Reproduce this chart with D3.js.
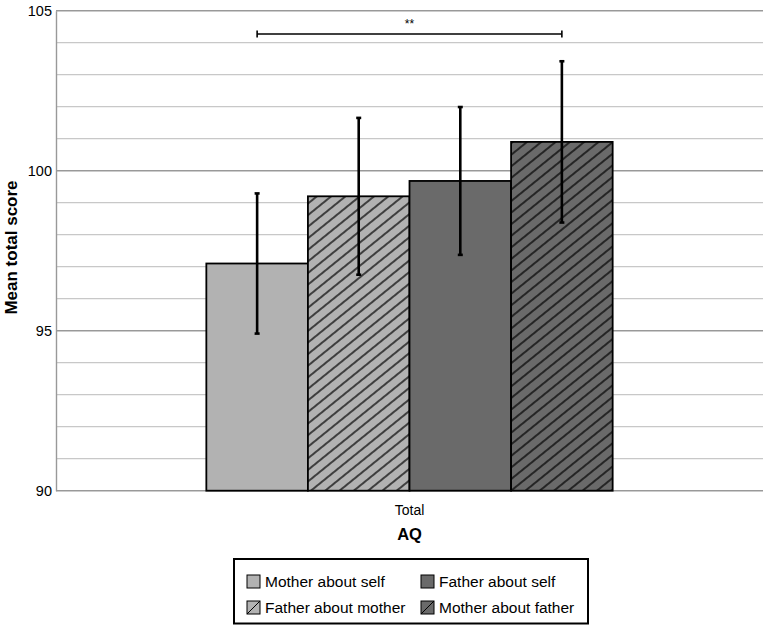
<!DOCTYPE html>
<html>
<head>
<meta charset="utf-8">
<script src="https://cdn.jsdelivr.net/npm/d3@7"></script>
<style>
  body { margin: 0; background: #fff; }
  text { font-family: "Liberation Sans", Arial, sans-serif; }
</style>
</head>
<body>
<div id="chart"></div>
<script>
// data
const groups = ['Mother about self', 'Father about mother', 'Father about self', 'Mother about father'];
const means = [97.1, 99.2, 99.68, 100.9];
const errs = [2.19, 2.45, 2.31, 2.52];
const fills = ['#b2b2b2', '#b2b2b2', '#6a6a6a', '#6a6a6a'];
const hatched = [false, true, false, true];
const yTicks = [90, 95, 100, 105];
const category = 'Total';
const sigPair = [0, 3];
const sigLabel = '**';

const width = 767, height = 625;
const margin = { left: 56, right: 4, top: 10.7, bottom: 134.3 };

const svg = d3.select('#chart').append('svg')
  .attr('width', width)
  .attr('height', height);

const defs = svg.append('defs');
['light', 'dark'].forEach((k, i) => {
  const p = defs.append('pattern')
    .attr('id', 'hatch-' + k)
    .attr('patternUnits', 'userSpaceOnUse')
    .attr('width', 9)
    .attr('height', 9)
    .attr('patternTransform', 'rotate(51)');
  p.append('rect').attr('width', 9).attr('height', 9).attr('fill', i === 0 ? fills[1] : fills[3]);
  p.append('line').attr('x1', 1).attr('x2', 1).attr('y1', 0).attr('y2', 9)
    .attr('stroke', '#000').attr('stroke-width', 1.3);
});
const fillFor = i => hatched[i] ? (fills[i] === fills[1] ? 'url(#hatch-light)' : 'url(#hatch-dark)') : fills[i];

const y = d3.scaleLinear().domain([90, 105]).range([height - margin.bottom, margin.top]);
const x0 = d3.scaleBand().domain([category]).range([margin.left, width - margin.right]).paddingInner(0).paddingOuter(0.37);
const x1 = d3.scaleBand().domain(groups).range([0, x0.bandwidth()]);

// grid
const g = svg.append('g');
g.selectAll('.minor')
  .data(d3.range(91, 105).filter(v => v % 5 !== 0))
  .join('line')
  .attr('x1', margin.left).attr('x2', width - margin.right)
  .attr('y1', d => y(d)).attr('y2', d => y(d))
  .attr('stroke', '#c8c8c8').attr('stroke-width', 1.2);
g.selectAll('.major')
  .data(yTicks)
  .join('line')
  .attr('x1', margin.left).attr('x2', width - margin.right)
  .attr('y1', d => y(d)).attr('y2', d => y(d))
  .attr('stroke', '#999').attr('stroke-width', 1.4);

// y axis
const yAxis = svg.append('g')
  .attr('transform', `translate(${margin.left},0)`)
  .call(d3.axisLeft(y).tickValues(yTicks).tickSize(0).tickPadding(4));
yAxis.select('.domain').attr('stroke', '#999').attr('stroke-width', 1.4);
yAxis.selectAll('text').attr('font-size', 14.5).attr('fill', '#000')
  .attr('font-family', '"Liberation Sans", Arial, sans-serif');

// bars
const bx = i => x0(category) + x1(groups[i]);
svg.append('g').selectAll('rect')
  .data(means)
  .join('rect')
  .attr('x', (d, i) => bx(i))
  .attr('y', d => y(d))
  .attr('width', x1.bandwidth())
  .attr('height', d => y(90) - y(d))
  .attr('fill', (d, i) => fillFor(i))
  .attr('stroke', '#000')
  .attr('stroke-width', 1.8);

// error bars
const eb = svg.append('g');
means.forEach((m, i) => {
  const cx = bx(i) + x1.bandwidth() / 2;
  eb.append('line').attr('x1', cx).attr('x2', cx)
    .attr('y1', y(m - errs[i])).attr('y2', y(m + errs[i]))
    .attr('stroke', '#000').attr('stroke-width', 2.6);
  [m - errs[i], m + errs[i]].forEach(v => {
    eb.append('line').attr('x1', cx - 2.5).attr('x2', cx + 2.5)
      .attr('y1', y(v)).attr('y2', y(v))
      .attr('stroke', '#000').attr('stroke-width', 2.6);
  });
});

// significance bracket
const sx1 = bx(sigPair[0]) + x1.bandwidth() / 2;
const sx2 = bx(sigPair[1]) + x1.bandwidth() / 2;
const sy = 34;
const sig = svg.append('g').attr('stroke', '#000').attr('stroke-width', 1.6);
sig.append('line').attr('x1', sx1).attr('x2', sx2).attr('y1', sy).attr('y2', sy);
sig.append('line').attr('x1', sx1).attr('x2', sx1).attr('y1', sy - 3.5).attr('y2', sy + 3.5);
sig.append('line').attr('x1', sx2).attr('x2', sx2).attr('y1', sy - 3.5).attr('y2', sy + 3.5);
svg.append('text').attr('x', (sx1 + sx2) / 2).attr('y', 28)
  .attr('text-anchor', 'middle').attr('font-size', 12).text(sigLabel);

// axis labels
svg.append('text')
  .attr('x', x0(category) + x0.bandwidth() / 2).attr('y', 515)
  .attr('text-anchor', 'middle').attr('font-size', 14).text(category);
svg.append('text')
  .attr('x', x0(category) + x0.bandwidth() / 2).attr('y', 540)
  .attr('text-anchor', 'middle').attr('font-size', 16.5).attr('font-weight', 'bold').text('AQ');
svg.append('text')
  .attr('transform', `translate(17,${y(97.6)}) rotate(-90)`)
  .attr('text-anchor', 'middle').attr('font-size', 17).attr('font-weight', 'bold')
  .text('Mean total score');

// legend
const lg = svg.append('g');
lg.append('rect').attr('x', 234).attr('y', 559).attr('width', 354).attr('height', 64.5)
  .attr('fill', '#fff').attr('stroke', '#000').attr('stroke-width', 2);
const order = [0, 2, 1, 3];
order.forEach((gi, k) => {
  const col = k % 2, row = Math.floor(k / 2);
  const lx = 247 + col * 174, ly = 575 + row * 26;
  lg.append('rect').attr('x', lx).attr('y', ly).attr('width', 13).attr('height', 13)
    .attr('fill', fills[gi]).attr('stroke', '#000').attr('stroke-width', 1);
  if (hatched[gi]) {
    lg.append('line').attr('x1', lx).attr('y1', ly + 13).attr('x2', lx + 13).attr('y2', ly)
      .attr('stroke', '#000').attr('stroke-width', 1);
  }
  lg.append('text').attr('x', lx + 18).attr('y', ly + 12).attr('font-size', 15.5).text(groups[gi]);
});
</script>
</body>
</html>
